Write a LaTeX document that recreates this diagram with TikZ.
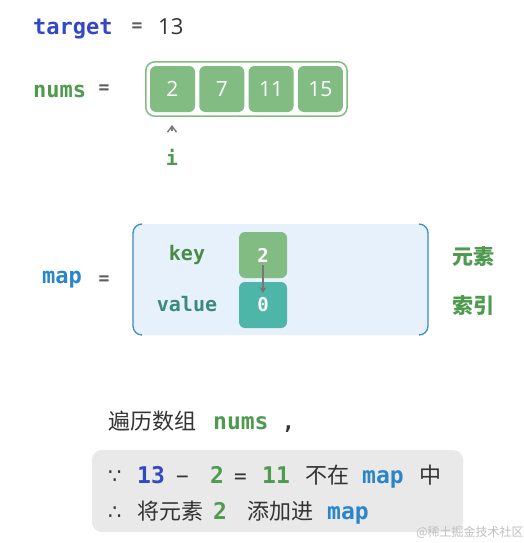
\documentclass[tikz,border=0pt]{standalone}
\usepackage{fontspec}
\setmainfont{Open Sans}
\newfontfamily\mono{DejaVu Sans Mono}
\newfontfamily\cjk{Noto Sans CJK SC}
\newfontfamily\symb{DejaVu Sans}
\usetikzlibrary{arrows.meta,positioning,fit}

\definecolor{numgreen}{HTML}{4E9A4E}
\definecolor{cellgreen}{HTML}{82BC82}
\definecolor{tgtblue}{HTML}{3448C5}
\definecolor{mapblue}{HTML}{2A86C8}
\definecolor{valteal}{HTML}{4DB6A8}
\definecolor{valtext}{HTML}{3A8A7E}
\definecolor{mapfill}{HTML}{E6F1FB}
\definecolor{mapedge}{HTML}{3A8AD0}
\definecolor{boxgrey}{HTML}{E9E9E9}
\definecolor{txtgrey}{HTML}{333333}
\definecolor{ptrgrey}{HTML}{777777}

\tikzset{
  codebig/.style={font=\mono\bfseries\fontsize{22}{26}\selectfont},
  codemid/.style={font=\mono\bfseries\fontsize{20}{24}\selectfont},
  cell/.style={fill=cellgreen, rounded corners=6pt, minimum width=45pt,
    minimum height=46pt, text=white, font=\fontsize{21}{24}\selectfont},
  mapcell/.style={rounded corners=6pt, minimum width=48pt, minimum height=46pt,
    text=white, font=\mono\bfseries\fontsize{19}{22}\selectfont},
  cnlabel/.style={font=\cjk\bfseries\fontsize{21}{24}\selectfont, text=numgreen},
  eqsign/.style={font=\mono\bfseries\fontsize{18}{22}\selectfont, text=txtgrey!80},
  tok/.style={anchor=base west, font=\mono\bfseries\fontsize{23}{26}\selectfont},
  optok/.style={anchor=base west, font=\mono\fontsize{21}{24}\selectfont, text=txtgrey},
  cntok/.style={anchor=base west, font=\cjk\fontsize{22}{26}\selectfont, text=txtgrey}
}

\begin{document}
\begin{tikzpicture}[x=1pt, y=-1pt, every node/.style={inner sep=0pt}]
	\useasboundingbox[fill=white] (0,0) rectangle (523,543);
	
	% target = 13
	\node[codebig, text=tgtblue, anchor=base west] (target) at (33,35) {target};
	\node[eqsign] (teq) at (137,27) {=};
	\node[anchor=base west, text=txtgrey, font=\fontsize{22}{26}\selectfont] (tval) at (158,35) {13};
	
	% nums array
	\node[codebig, text=numgreen, anchor=base west] (nums) at (33,97) {nums};
	\node[eqsign] (neq) at (104,89) {=};
	\foreach \v [count=\k] in {2,7,11,15} {
		\node[cell] (c\k) at ({172.5+(\k-1)*49.3}, 89) {\v};
	}
	\node[draw=cellgreen, line width=1.5pt, rounded corners=9pt, inner sep=4pt,
		fit=(c1)(c4)] (arr) {};
	
	% pointer i
	\coordinate (ptrtip) at (172,125);
	\node[codemid, text=numgreen] (i) at (172,157) {i};
	\draw[-{Straight Barb[length=6pt,width=9pt]}, ptrgrey, line width=1.4pt] ([yshift=-6pt]ptrtip) -- (ptrtip);
	
	% hash map
	\fill[mapfill, rounded corners=9pt] (133,224) rectangle (428,335);
	\draw[mapedge, line width=1.3pt, rounded corners=9pt] (142,224) -- (133,224) -- (133,335) -- (142,335);
	\draw[mapedge, line width=1.3pt, rounded corners=9pt] (419,224) -- (428,224) -- (428,335) -- (419,335);
	\node[codebig, text=mapblue] (map) at (62,280) {map};
	\node[eqsign] (meq) at (104,280) {=};
	\node[codemid, text=numgreen!90!black] (key) at (187,255) {key};
	\node[codemid, text=valtext] (value) at (187,304) {value};
	\node[mapcell, fill=cellgreen] (kcell) at (263,255) {2};
	\node[mapcell, fill=valteal] (vcell) at (263,305) {0};
	\draw[-{Stealth[length=6pt,width=7pt]}, ptrgrey, line width=2pt] ([yshift=-10pt]kcell.center) -- ([yshift=12pt]vcell.center);
	\node[cnlabel] (elem) at (473,257) {元素};
	\node[cnlabel] (idx) at (473,306) {索引};
	
	% explanation
	\node[cntok] (walk) at (108,429) {遍历数组};
	\node[tok, text=numgreen] (wnums) at (213,429) {nums};
	\node[optok] (comma) at (282,429) {\bfseries ,};
	\fill[boxgrey, rounded corners=10pt] (92,450) rectangle (463,532);
	
	% line 1
	\node[optok] (since) at (108,483) {\symb ∵};
	\node[tok, text=tgtblue] (a13) at (137,483) {13};
	\node[optok] (minus) at (176,483) {−};
	\node[tok, text=numgreen] (a2) at (210,483) {2};
	\node[optok] (equal) at (234,483) {=};
	\node[tok, text=numgreen] (a11) at (262,483) {11};
	\node[cntok] (notin) at (305,483) {不在};
	\node[tok, text=mapblue] (amap) at (362,483) {map};
	\node[cntok] (mid) at (419,483) {中};
	
	% line 2
	\node[optok] (hence) at (108,519) {\symb ∴};
	\node[cntok] (put) at (137,519) {将元素};
	\node[tok, text=numgreen] (b2) at (213,519) {2};
	\node[cntok] (addin) at (247,519) {添加进};
	\node[tok, text=mapblue] (bmap) at (327,519) {map};
	
	% watermark
	\node[font=\cjk\fontsize{12}{14}\selectfont, text=black!25] (mark) at (470,532) {@稀土掘金技术社区};
	
\end{tikzpicture}
\end{document}
